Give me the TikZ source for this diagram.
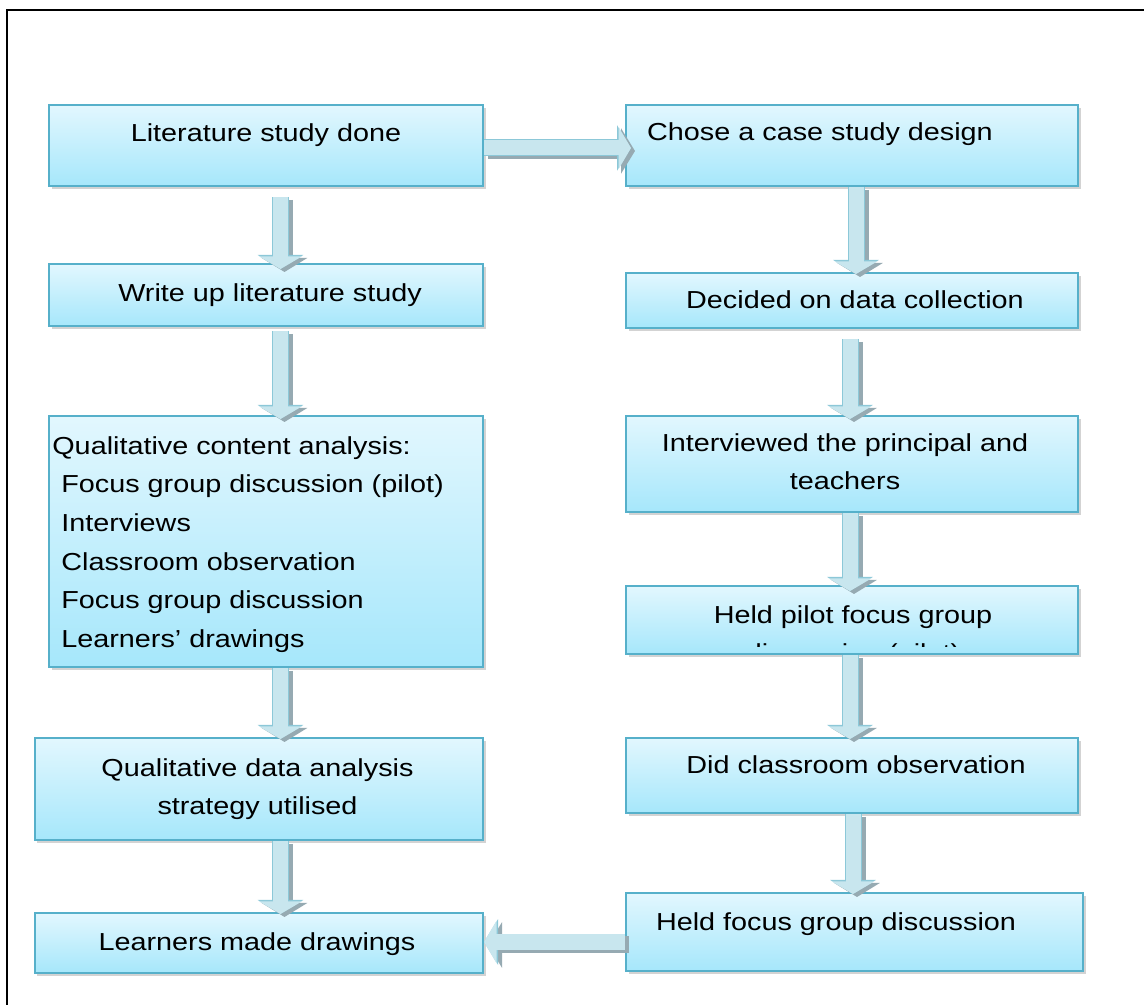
\documentclass[tikz,border=0pt]{standalone}
\usepackage{fontspec}
\setmainfont{Liberation Sans}[FakeStretch=1.17]
\usetikzlibrary{arrows.meta,shadows}
\definecolor{boxtop}{RGB}{226,247,254}
\definecolor{boxbot}{RGB}{166,231,251}
\definecolor{boxedge}{RGB}{86,176,202}
\definecolor{arrowfill}{RGB}{200,230,238}
\definecolor{arrowedge}{RGB}{140,200,216}
\definecolor{arrowshade}{RGB}{150,170,178}

\begin{document}
\begin{tikzpicture}[
  stepbox/.style={draw=boxedge, line width=0.04cm, top color=boxtop, bottom color=boxbot,
    drop shadow={shadow xshift=0.05cm, shadow yshift=-0.06cm, opacity=0.35}, inner sep=0},
  boxtext/.style={font=\fontsize{14}{22}\selectfont, inner sep=0},
  flow/.style={draw=arrowfill, line width=0.30cm, -{Triangle[width=0.84cm,length=0.25cm]},
    preaction={draw=arrowshade, line width=0.34cm, -{Triangle[width=0.9cm,length=0.28cm]},
      transform canvas={shift={(0.08cm,-0.06cm)}}},
    preaction={draw=arrowedge, line width=0.34cm, -{Triangle[width=0.9cm,length=0.28cm]}}}]
  \useasboundingbox (0,0) rectangle (22.88,-20.1);
  \draw[line width=0.045cm] (0.14,-20.2) |- (23,-0.2);

  \node[stepbox, minimum width=8.68cm, minimum height=1.62cm] (lit) at (5.32,-2.91) {};
  \node[stepbox, minimum width=8.68cm, minimum height=1.24cm] (write) at (5.32,-5.90) {};
  \node[stepbox, minimum width=8.68cm, minimum height=5.02cm] (qca) at (5.32,-10.83) {};
  \node[stepbox, minimum width=8.96cm, minimum height=2.04cm] (qda) at (5.18,-15.78) {};
  \node[stepbox, minimum width=8.96cm, minimum height=1.20cm] (made) at (5.18,-18.86) {};
  \node[stepbox, minimum width=9.04cm, minimum height=1.62cm] (case) at (17.04,-2.91) {};
  \node[stepbox, minimum width=9.04cm, minimum height=1.10cm] (decided) at (17.04,-6.01) {};
  \node[stepbox, minimum width=9.04cm, minimum height=1.92cm] (interv) at (17.04,-9.28) {};
  \node[stepbox, minimum width=9.04cm, minimum height=1.36cm] (pilot) at (17.04,-12.40) {};
  \node[stepbox, minimum width=9.04cm, minimum height=1.50cm] (obs) at (17.04,-15.51) {};
  \node[stepbox, minimum width=9.14cm, minimum height=1.56cm] (held) at (17.09,-18.64) {};

  \node[boxtext, anchor=base] (litT) at (5.32,-2.84) {Literature study done};
  \node[boxtext, anchor=base] (writeT) at (5.40,-6.04) {Write up literature study};
  \node[boxtext, anchor=north west, align=left] (qcaT) at (1.04,-8.72)
    {Qualitative content analysis:\\\hspace*{0.18cm}Focus group discussion (pilot)\\\hspace*{0.18cm}Interviews\\\hspace*{0.18cm}Classroom observation\\\hspace*{0.18cm}Focus group discussion\\\hspace*{0.18cm}Learners’ drawings};
  \node[boxtext, anchor=north, align=center] (qdaT) at (5.15,-15.16) {Qualitative data analysis\\strategy utilised};
  \node[boxtext, anchor=base] (madeT) at (5.14,-19.02) {Learners made drawings};
  \node[boxtext, anchor=base] (caseT) at (16.40,-2.82) {Chose a case study design};
  \node[boxtext, anchor=base] (decidedT) at (17.10,-6.18) {Decided on data collection};
  \node[boxtext, anchor=north, align=center] (intervT) at (16.90,-8.66) {Interviewed the principal and\\teachers};
  \begin{scope}
    \clip (12.56,-12.93) rectangle (21.52,-11.76);
    \node[boxtext, anchor=north, align=center] (pilotT) at (17.06,-12.10) {Held pilot focus group\\discussion (pilot)};
  \end{scope}
  \node[boxtext, anchor=base] (obsT) at (17.12,-15.48) {Did classroom observation};
  \node[boxtext, anchor=base] (heldT) at (16.72,-18.60) {Held focus group discussion};

  \coordinate (lcol) at (5.61,0);
  \coordinate (rcol) at (17.0,0);
  \coordinate (toprow) at (0,-2.96);
  \coordinate (botrow) at (0,-18.84);
  \draw[flow, shorten <=0.2cm, shorten >=-0.12cm] (lit.south -| lcol) -- (write.north -| lcol);
  \draw[flow, shorten <=0.08cm, shorten >=-0.08cm] (write.south -| lcol) -- (qca.north -| lcol);
  \draw[flow, shorten >=-0.04cm] (qca.south -| lcol) -- (qda.north -| lcol);
  \draw[flow, shorten >=-0.04cm] (qda.south -| lcol) -- (made.north -| lcol);
  \draw[flow, shorten >=-0.04cm] ([xshift=0.12cm]case.south -| rcol) -- ([xshift=0.12cm]decided.north -| rcol);
  \draw[flow, shorten <=0.2cm, shorten >=-0.08cm] (decided.south -| rcol) -- (interv.north -| rcol);
  \draw[flow, shorten >=-0.12cm] (interv.south -| rcol) -- (pilot.north -| rcol);
  \draw[flow, shorten >=-0.04cm] (pilot.south -| rcol) -- (obs.north -| rcol);
  \draw[flow, shorten >=-0.04cm] ([xshift=0.06cm]obs.south -| rcol) -- ([xshift=0.06cm]held.north -| rcol);
  \draw[flow, shorten >=-0.12cm] (lit.east |- toprow) -- (case.west |- toprow);
  \draw[flow] (held.west |- botrow) -- (made.east |- botrow);
\end{tikzpicture}
\end{document}
